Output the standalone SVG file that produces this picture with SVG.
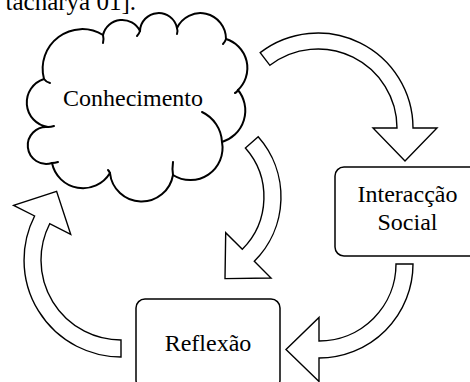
<svg xmlns="http://www.w3.org/2000/svg" width="470" height="382" viewBox="0 0 470 382">
<style>
.cloud{fill:#fff;stroke:#000;stroke-width:2;stroke-linejoin:round}
.curl{fill:none;stroke:#000;stroke-width:2;stroke-linecap:round}
.box{fill:#fff;stroke:#000;stroke-width:1.5}
.arrow{fill:#fff;stroke:#000;stroke-width:1.4;stroke-linejoin:miter}
</style>
<rect width="470" height="382" fill="#fff"/>
<g font-family="Liberation Serif" font-size="24" fill="#000">
<text x="136" y="10" text-anchor="end" font-size="25">tacharya 01].</text>
<g id="conhecimento">
<path class="cloud" d="M 44 79 A 39.6 39.6 0 0 1 103 35 A 19.8 19.8 0 0 1 140 31 A 18.7 18.7 0 0 1 177 28 A 25.7 25.7 0 0 1 226 39 A 30.4 30.4 0 0 1 238 90 A 32.8 32.8 0 0 1 222 142 A 32.2 32.2 0 0 1 173 175 A 31.8 31.8 0 0 1 110 173 A 31.6 31.6 0 0 1 52 163 A 18.5 18.5 0 1 1 48 127 A 24.7 24.7 0 0 1 44 79 Z"/>
<path class="curl" d="M 44 79 q 2 3 6 4 M 103 35 q 1 4 0 8 M 140 31 q -1 3 -3 5 M 177 28 q 1 3 0 6 M 226 39 q -1 3 -3 5 M 238 90 q -1 2 -3 3 M 202 112 A 35 35 0 0 1 222 142 M 173 175 q -1 -6 0 -13 M 110 173 q -1 -2 -2 -3 M 52 163 q 3 0 6 -1 M 48 127 q 3 0 6 -1"/>
<text x="133" y="106" text-anchor="middle">Conhecimento</text>
</g>
<g id="interaccao">
<rect class="box" x="335" y="167" width="145" height="89" rx="9"/>
<text x="407.5" y="202" text-anchor="middle">Interacção</text>
<text x="407.5" y="230" text-anchor="middle">Social</text>
</g>
<g id="reflexao">
<rect class="box" x="136" y="299" width="144" height="90" rx="9"/>
<text x="208" y="351" text-anchor="middle">Reflexão</text>
</g>
</g>
<g id="connectors">
<path class="arrow" d="M 260.2 52.6 A 95 95 0 0 1 413 128 L 437 128 L 405 161 L 373 128 L 397 128 A 79 79 0 0 0 269.9 65.3 Z"/>
<path class="arrow" d="M 258.2 136.7 A 91 91 0 0 1 254.3 261.3 L 271 278 L 225 278.6 L 225.7 232.7 L 242.3 249.3 A 74 74 0 0 0 245.4 148 Z"/>
<path class="arrow" d="M 413 264 A 94 94 0 0 1 319 358 L 319 381.5 L 286 349.5 L 319 317.5 L 319 341 A 77 77 0 0 0 396 264 Z"/>
<path class="arrow" d="M 121 357 A 97 97 0 0 1 34.6 216 L 13.6 205.3 L 56.6 191.3 L 70.7 234.3 L 49.7 223.7 A 80 80 0 0 0 121 340 Z"/>
</g>
</svg>
